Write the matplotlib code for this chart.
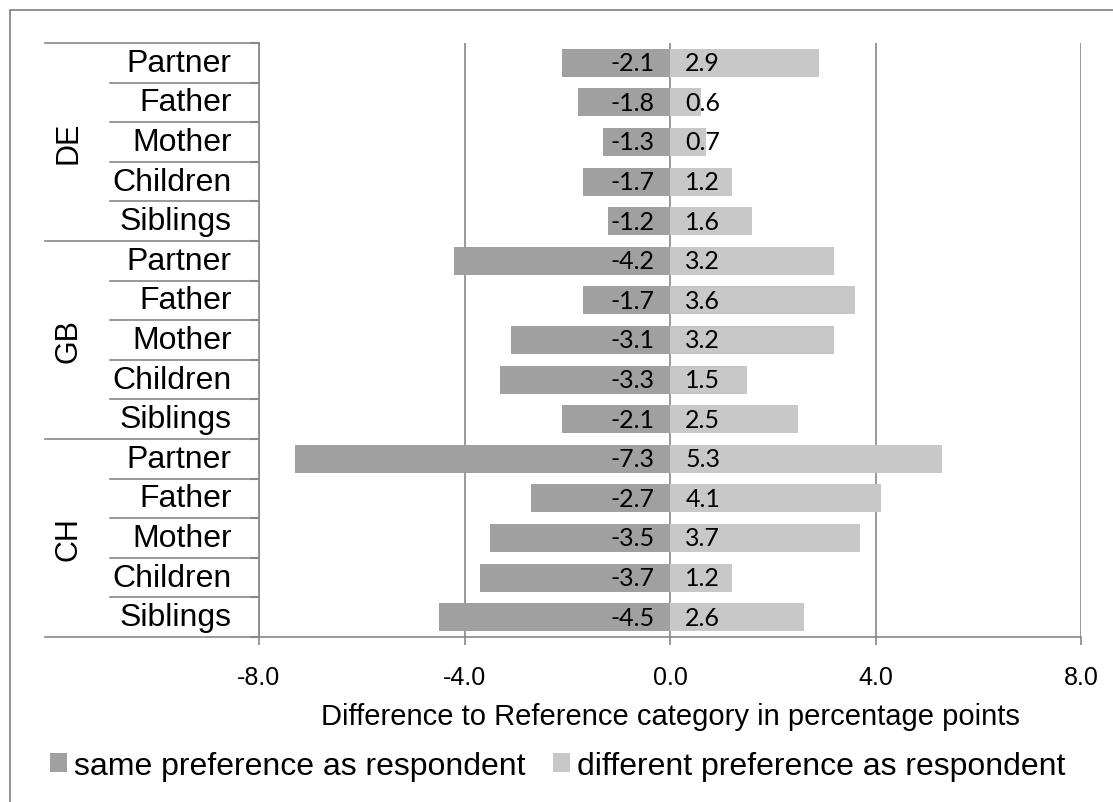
import numpy as np
import matplotlib
matplotlib.use("Agg")
import matplotlib.pyplot as plt
from matplotlib.transforms import blended_transform_factory
from matplotlib.patches import Rectangle

plt.rcParams['font.family'] = ['Liberation Sans', 'DejaVu Sans']

# Countries and relations, top to bottom
countries = ["DE", "GB", "CH"]
relations = ["Partner", "Father", "Mother", "Children", "Siblings"]

# Difference to reference category (percentage points)
same_pref = [-2.1, -1.8, -1.3, -1.7, -1.2,
             -4.2, -1.7, -3.1, -3.3, -2.1,
             -7.3, -2.7, -3.5, -3.7, -4.5]
diff_pref = [2.9, 0.6, 0.7, 1.2, 1.6,
             3.2, 3.6, 3.2, 1.5, 2.5,
             5.3, 4.1, 3.7, 1.2, 2.6]

x_ticks = [-8.0, -4.0, 0.0, 4.0, 8.0]
series_names = ["same preference as respondent", "different preference as respondent"]

GRID = "#888888"
DARK = "#a0a0a0"
LIGHT = "#c8c8c8"

W, H = 1113, 803
fig = plt.figure(figsize=(W / 100, H / 100), dpi=100)
ax = fig.add_axes([259 / W, 1 - 638 / H, (1081 - 259) / W, (638 - 44) / H])

n_rel = len(relations)
rows = np.arange(len(countries) * n_rel)

b1 = ax.barh(rows, same_pref, height=0.71, color=DARK, zorder=3)
b2 = ax.barh(rows, diff_pref, height=0.71, color=LIGHT, zorder=3)

ax.set_xlim(-8, 8)
ax.set_ylim(rows[-1] + 0.5, -0.5)
ax.set_axisbelow(True)
ax.xaxis.grid(True, color=GRID, lw=1.2)

ax.set_xticks(x_ticks)
ax.set_xticklabels([f"{t:.1f}" for t in x_ticks], fontsize=18)
ax.tick_params(axis='x', direction='out', length=6, width=1.2, color=GRID, pad=14)

# category boundaries as y ticks (no labels)
bounds = np.arange(-0.5, len(rows) + 0.5, 1.0)
ax.set_yticks(bounds)
ax.set_yticklabels([])
ax.tick_params(axis='y', direction='out', length=6.5, width=1.5, color=GRID)

for s in ["top", "right"]:
    ax.spines[s].set_visible(False)
for s in ["left", "bottom"]:
    ax.spines[s].set_color(GRID)
    ax.spines[s].set_linewidth(1.2)

# value labels next to the zero line
for y, v in zip(rows, same_pref):
    ax.annotate(f"{v:.1f}", (0, y), xytext=(-11, 0), textcoords="offset points",
                ha="right", va="center", fontfamily="Lato", fontsize=18, zorder=4)
for y, v in zip(rows, diff_pref):
    ax.annotate(f"{v:.1f}", (0, y), xytext=(11, 0), textcoords="offset points",
                ha="left", va="center", fontfamily="Lato", fontsize=18, zorder=4)

# two-level category axis on the left
trans = blended_transform_factory(ax.transAxes, ax.transData)
inner_x = (110 - 259) / (1081 - 259)
outer_x = (45 - 259) / (1081 - 259)
for i, y in enumerate(rows):
    ax.text(-0.033, y, relations[i % n_rel], transform=trans,
            ha="right", va="center", fontsize=23)
for b in bounds:
    start = outer_x if (b + 0.5) % n_rel == 0 else inner_x
    ax.plot([start, 0], [b, b], transform=trans, color=GRID, lw=1.2, clip_on=False)
for g, c in enumerate(countries):
    ax.text(-0.232, g * n_rel + (n_rel - 1) / 2, c, transform=trans, rotation=90,
            ha="center", va="center", fontsize=22)

fig.text(670 / W, 1 - 717 / H, "Difference to Reference category in percentage points",
         ha="center", va="center", fontsize=21)

fig.legend([b1, b2], series_names, loc="center", bbox_to_anchor=(558 / W, 1 - 767 / H),
           ncol=2, frameon=False, fontsize=23, handlelength=0.53, handleheight=0.53,
           handletextpad=0.22, columnspacing=0.87, borderaxespad=0, borderpad=0)

# chart area border
fig.add_artist(Rectangle((10 / W, -0.05), 1.2, 1.05 - 10.5 / H, transform=fig.transFigure,
                         fill=False, ec=GRID, lw=1.3))

fig.savefig("out.png", dpi=100)
